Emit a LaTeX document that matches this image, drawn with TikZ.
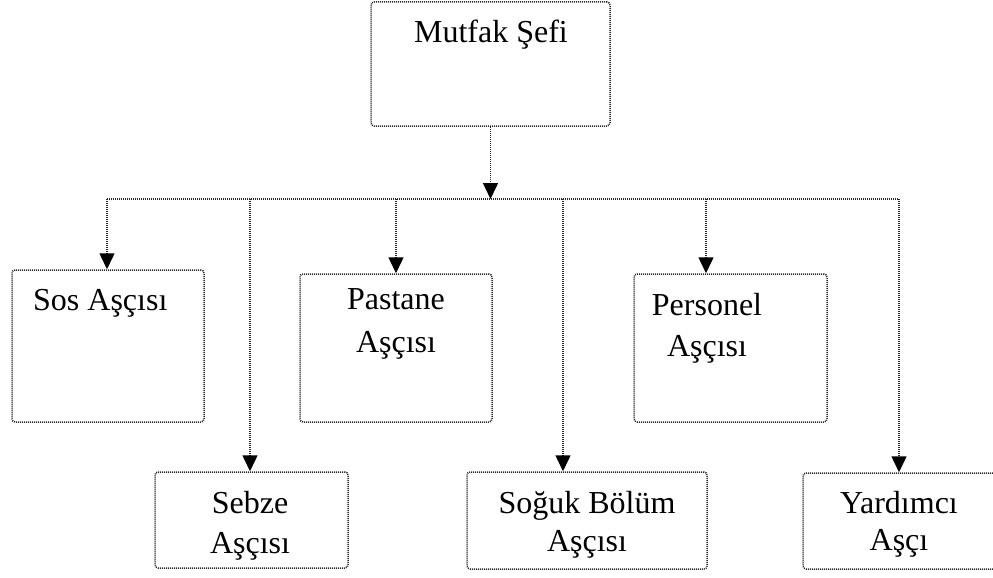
\documentclass[tikz,border=0pt]{standalone}
\usepackage{fontspec}
\setmainfont{Liberation Serif}
\usetikzlibrary{arrows.meta}
\begin{document}
\begin{tikzpicture}[x=1pt,y=-1pt,
  dotline/.style={draw=black!85, line width=1.5pt, dash pattern=on 1pt off 1pt},
  box/.style={dotline, rectangle, rounded corners=3pt, inner sep=0pt},
  lbl/.style={font=\fontsize{32}{40}\selectfont, anchor=base, inner sep=0pt, text=black},
  link/.style={dotline, -{Triangle[width=15pt,length=16pt,black]}}]
\useasboundingbox (0,0) rectangle (993,578);
\clip (0,0) rectangle (993,578);

% boxes
\node[box, minimum width=239pt, minimum height=124pt] (chef) at (490.5,64) {};
\node[box, minimum width=192pt, minimum height=152pt] (sos) at (108,346) {};
\node[box, minimum width=192pt, minimum height=148pt] (pastane) at (396,348) {};
\node[box, minimum width=193pt, minimum height=148pt] (personel) at (730.5,348) {};
\node[box, minimum width=193pt, minimum height=96pt] (sebze) at (251.5,520) {};
\node[box, minimum width=240pt, minimum height=97pt] (soguk) at (587,520.5) {};
\node[box, minimum width=197pt, minimum height=96pt] (yardimci) at (901.5,521) {};

% labels
\node[lbl] (tChef) at (491,43) {Mutfak Şefi};
\node[lbl, anchor=base west] (tSos) at (33,310) {Sos Aşçısı};
\node[lbl] (tPas1) at (396,309) {Pastane};
\node[lbl] (tPas2) at (396,352) {Aşçısı};
\node[lbl] (tPer1) at (707,315) {Personel};
\node[lbl] (tPer2) at (707,356) {Aşçısı};
\node[lbl] (tSeb1) at (250,513) {Sebze};
\node[lbl] (tSeb2) at (250,553) {Aşçısı};
\node[lbl] (tSog1) at (587,513) {Soğuk Bölüm};
\node[lbl] (tSog2) at (587,551) {Aşçısı};
\node[lbl] (tYar1) at (899,513) {Yardımcı};
\node[lbl] (tYar2) at (899,550) {Aşçı};

% distribution bus
\coordinate (b1) at (107,199);
\coordinate (b2) at (250,199);
\coordinate (b3) at (396,199);
\coordinate (b4) at (563,199);
\coordinate (b5) at (706,199);
\coordinate (b6) at (899,199);
\draw[link] (chef.south) -- (chef.south |- b1);
\draw[dotline] (b1) -- (b6);

% branches
\draw[link] (b1) -- (b1 |- sos.north);
\draw[link] (b2) -- (b2 |- sebze.north);
\draw[link] (b3) -- (b3 |- pastane.north);
\draw[link] (b4) -- (b4 |- soguk.north);
\draw[link] (b5) -- (b5 |- personel.north);
\draw[link] (b6) -- (b6 |- yardimci.north);
\end{tikzpicture}
\end{document}
